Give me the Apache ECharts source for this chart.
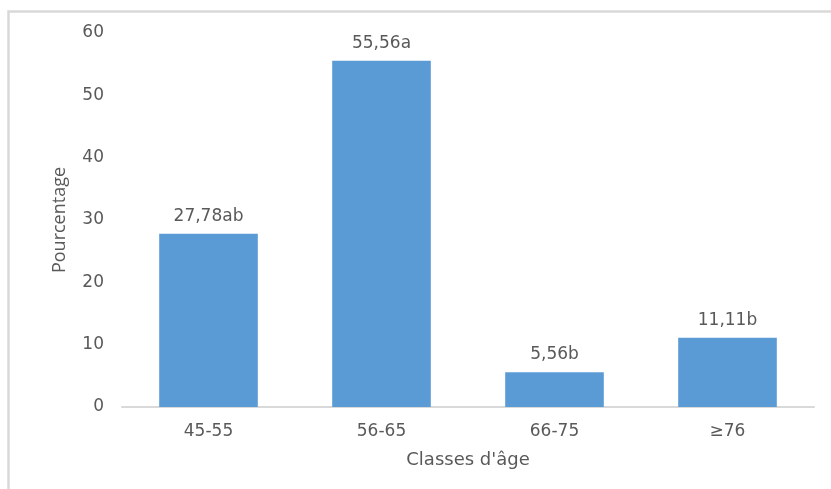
<!DOCTYPE html>
<html>
<head>
<meta charset="utf-8">
<script src="https://cdn.jsdelivr.net/npm/echarts@6/dist/echarts.min.js"></script>
<style>
  html, body { margin: 0; padding: 0; background: #fff; }
  #chart { width: 831px; height: 489px; }
</style>
</head>
<body>
<div id="chart"></div>
<script>
// Age classes and their share (%), with significance letters
const categories = ['45-55', '56-65', '66-75', '\u226576'];
const percentages = [27.78, 55.56, 5.56, 11.11];
const letters = ['ab', 'a', 'b', 'b'];
const yTicks = [0, 10, 20, 30, 40, 50, 60];

const font = '"DejaVu Sans", "Open Sans", sans-serif';
const narrowFont = '"Open Sans", "Liberation Sans", sans-serif';
const textColor = '#595959';

const chart = echarts.init(document.getElementById('chart'), null, { renderer: 'canvas' });

chart.setOption({
  animation: false,
  backgroundColor: '#ffffff',
  graphic: [{
    type: 'rect',
    shape: { x: 8.5, y: 11.5, width: 840, height: 500 },
    style: { fill: 'none', stroke: '#d9d9d9', lineWidth: 2.5 },
    silent: true,
    z: -1
  }],
  grid: { left: 122, right: 17, top: 33, bottom: 82, containLabel: false },
  xAxis: {
    type: 'category',
    data: categories,
    name: "Classes d'\u00e2ge",
    nameLocation: 'middle',
    nameGap: 44,
    nameTextStyle: { color: textColor, fontFamily: font, fontSize: 18 },
    axisLine: { show: true, lineStyle: { color: '#d9d9d9', width: 2 } },
    axisTick: { show: false },
    axisLabel: { color: textColor, fontFamily: font, fontSize: 17, margin: 16 },
    splitLine: { show: false }
  },
  yAxis: {
    type: 'value',
    min: yTicks[0],
    max: yTicks[yTicks.length - 1],
    interval: 10,
    name: 'Pourcentage',
    nameLocation: 'middle',
    nameGap: 53,
    nameRotate: 90,
    nameTextStyle: { color: textColor, fontFamily: narrowFont, fontSize: 18 },
    axisLine: { show: false },
    axisTick: { show: false },
    axisLabel: { color: textColor, fontFamily: font, fontSize: 17, margin: 18 },
    splitLine: { show: false }
  },
  series: [{
    type: 'bar',
    data: percentages,
    barWidth: '57%',
    itemStyle: { color: '#5b9bd5' },
    label: {
      show: true,
      position: 'top',
      distance: 9,
      color: textColor,
      fontFamily: font,
      fontSize: 17,
      formatter: p => String(p.value).replace('.', ',') + letters[p.dataIndex]
    }
  }]
});
</script>
</body>
</html>
